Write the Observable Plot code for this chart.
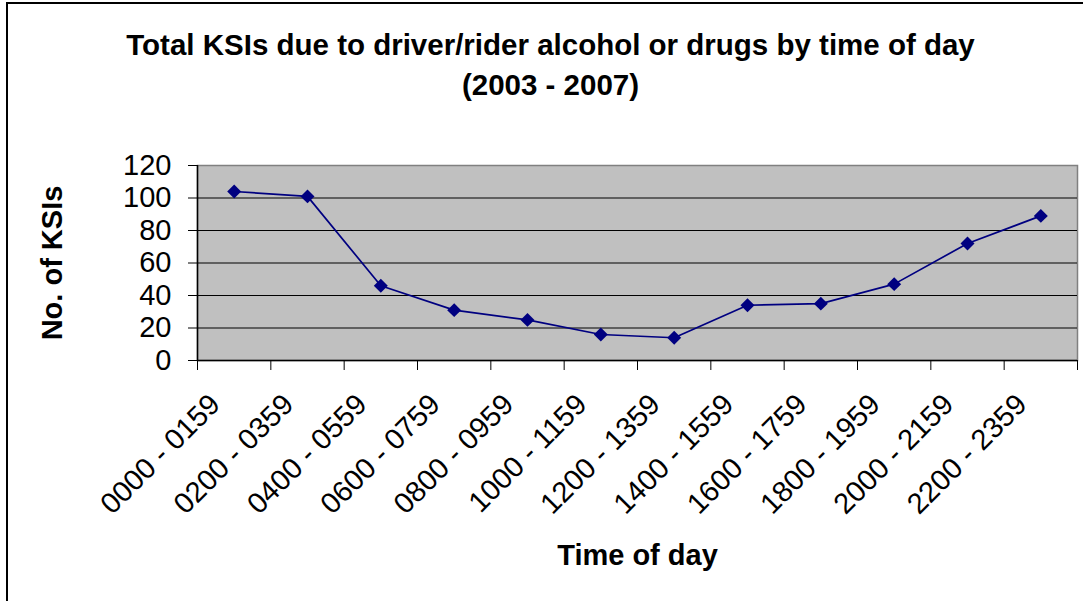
<!DOCTYPE html>
<html>
<head>
<meta charset="utf-8">
<script src="https://cdn.jsdelivr.net/npm/d3@7"></script>
<script src="https://cdn.jsdelivr.net/npm/@observablehq/plot@0.6"></script>
<style>
  html, body { margin: 0; padding: 0; background: #fff; }
  #chart { width: 1083px; height: 601px; overflow: hidden; }
</style>
</head>
<body>
<div id="chart"></div>
<script>
const categories = [
  "0000 - 0159", "0200 - 0359", "0400 - 0559", "0600 - 0759",
  "0800 - 0959", "1000 - 1159", "1200 - 1359", "1400 - 1559",
  "1600 - 1759", "1800 - 1959", "2000 - 2159", "2200 - 2359"
];
const ksiValues = [104, 101, 46, 31, 25, 16, 14, 34, 35, 47, 72, 89];
const yTicks = [0, 20, 40, 60, 80, 100, 120];
const titleLine1 = "Total KSIs due to driver/rider alcohol or drugs by time of day";
const titleLine2 = "(2003 - 2007)";
const yLabel = "No. of KSIs";
const xLabel = "Time of day";

const data = categories.map((c, i) => ({cat: c, idx: i + 0.5, value: ksiValues[i]}));
const boundaries = d3.range(0, categories.length + 1);

const font = "'Liberation Sans', Arial, sans-serif";

const svg = Plot.plot({
  width: 1083,
  height: 601,
  marginLeft: 197,
  marginRight: 6,
  marginTop: 165,
  marginBottom: 241,
  style: {fontFamily: font, fontSize: "29px", background: "white", color: "black", overflow: "visible"},
  x: {type: "linear", domain: [0, categories.length], axis: null, label: null},
  y: {domain: [0, 120], axis: null, label: null},
  marks: [
    Plot.frame({fill: "#c0c0c0", stroke: "#808080", strokeWidth: 1.5}),
    Plot.ruleY(yTicks.filter(t => t > 0 && t < 120), {stroke: "#000", strokeWidth: 1}),
    Plot.ruleY([0], {stroke: "#000", strokeWidth: 1.5}),
    Plot.ruleX([0], {stroke: "#000", strokeWidth: 1.5}),
    Plot.axisY({ticks: yTicks, tickSize: 9, tickPadding: 17, fontSize: 29, stroke: "#000", label: null, tickFormat: d => String(d)}),
    Plot.axisX({ticks: boundaries, tickSize: 10, tickFormat: () => "", stroke: "#000", label: null}),
    Plot.text(data, {
      x: "idx", text: "cat", frameAnchor: "bottom", rotate: -45,
      textAnchor: "end", lineAnchor: "middle", dx: -19, dy: 39,
      fontSize: 29, fill: "#000"
    }),
    Plot.lineY(data, {x: "idx", y: "value", stroke: "#000080", strokeWidth: 1.7}),
    Plot.dot(data, {x: "idx", y: "value", symbol: "diamond2", r: 6.3, fill: "#000080", stroke: "none"}),
    Plot.text([titleLine1], {frameAnchor: "top-left", dx: 353, dy: -120, textAnchor: "middle", lineAnchor: "middle", fontSize: 29.5, fontWeight: "bold", fill: "#000"}),
    Plot.text([titleLine2], {frameAnchor: "top-left", dx: 353, dy: -80, textAnchor: "middle", lineAnchor: "middle", fontSize: 29.5, fontWeight: "bold", fill: "#000"}),
    Plot.text([yLabel], {frameAnchor: "left", dx: -145, rotate: -90, textAnchor: "middle", lineAnchor: "middle", fontSize: 29, fontWeight: "bold", fill: "#000"}),
    Plot.text([xLabel], {frameAnchor: "bottom", dy: 195, textAnchor: "middle", lineAnchor: "middle", fontSize: 29, fontWeight: "bold", fill: "#000"})
  ]
});

d3.select(svg).append("rect")
  .attr("x", 7).attr("y", 3)
  .attr("width", 1200).attr("height", 700)
  .attr("fill", "none").attr("stroke", "#000").attr("stroke-width", 2);

document.getElementById("chart").appendChild(svg);
</script>
</body>
</html>
